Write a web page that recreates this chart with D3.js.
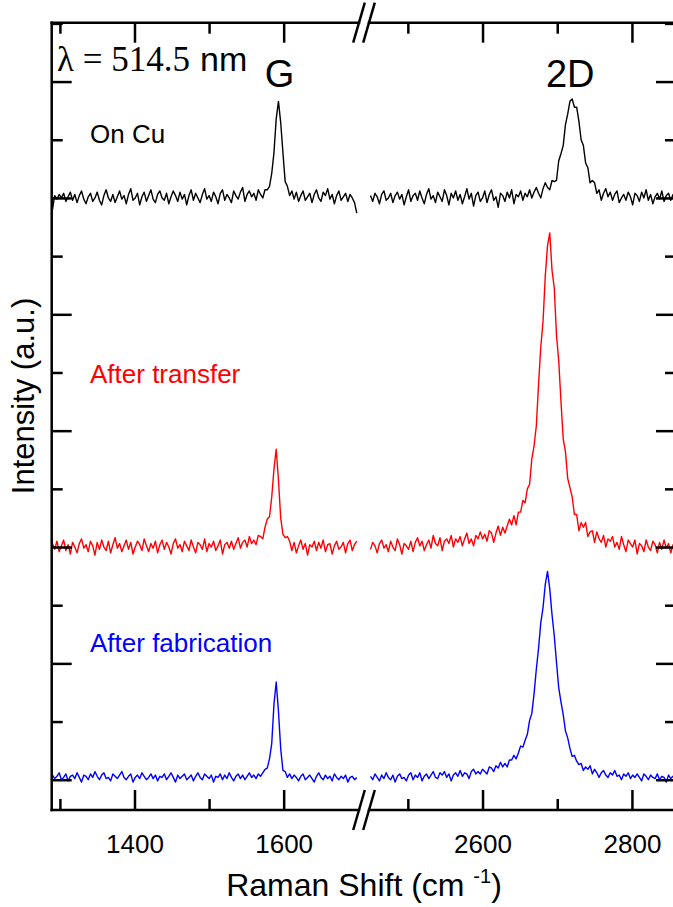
<!DOCTYPE html>
<html>
<head>
<meta charset="utf-8">
<script src="https://cdn.jsdelivr.net/npm/d3@7"></script>
<style>
  body { margin: 0; background: #fff; }
  svg { display: block; }
  text { font-family: "Liberation Sans", Arial, sans-serif; }
</style>
</head>
<body>
<svg id="chart" width="673" height="907"></svg>
<script>
// Wavenumber grids (cm^-1): both windows are sampled every 3 cm^-1
const leftStart = 1290;   // G-band window
const rightStart = 2450;  // 2D-band window
const step = 3;

// Raman intensities (a.u.), one array per spectrum and window
const blackLeft = [
  -10, 2, -1, 3, 0, 4, -3, 1, 5, -2,
  3, -4, 2, 6, -1, -5, 1, 4, -3, 0,
  5, -2, -6, 2, 7, 0, -3, 3, -4, 1,
  6, -1, 2, -5, 3, 8, -2, 0, 4, -6,
  1, 5, -3, 2, 7, -1, -4, 3, 6, 0,
  -2, 4, -5, 1, 6, 2, -3, 5, -1, 3,
  -6, 2, 7, -2, 4, 0, -4, 3, 8, -1,
  2, -3, 5, 1, -5, 4, 7, -2, 3, 0,
  -4, 6, 2, -1, 5, 9, -3, 3, 6, 1,
  4, -2, 7, 3, 0, 7, 7, 10, 21, 39,
  68, 83, 65, 39, 14, 10, 2, 6, -1, 5,
  -3, 2, 6, -2, 1, 4, -4, 3, 7, 0,
  -3, 5, 2, 8, -1, 3, -5, 2, 6, -2,
  1, 4, -3, 3, 0, -4, -13
];
const blackRight = [
  2, -3, 4, 1, -5, 3, 6, -2, 0, 4,
  -4, 2, 5, -1, 3, -6, 1, 7, -3, 2,
  4, -2, 6, 0, -5, 3, 8, -1, 2, -4,
  5, 1, -3, 7, 2, -6, 4, 0, 6, -2,
  3, -5, 1, 8, -1, 4, -7, 2, 5, -3,
  0, 6, -4, 3, 7, -2, 1, -8, 4, 2,
  -3, 5, 0, 7, -5, 3, 1, 6, -2, 4,
  1, 7, 0, 5, 9, 4, 0, 8, 13, 9,
  7, 15, 14, 15, 32, 38, 45, 63, 72, 83,
  85, 78, 78, 66, 50, 45, 30, 26, 13, 15,
  13, 4, 7, -2, 4, 8, 1, 5, -2, 3,
  6, -4, 0, 3, -2, 5, 1, -6, 4, 2,
  -3, 5, 0, 7, -2, 3, -5, 1, 4, -1,
  6, -3, 2, 4, -2, 3, 0
];
const redLeft = [
  3, -2, 5, -4, 1, 6, -3, 2, -6, 4,
  0, -5, 3, 7, -1, 2, -4, 5, 1, -7,
  4, -2, 6, 0, -3, 5, -5, 2, 8, -1,
  3, -4, 1, 6, -2, 4, -6, 0, 5, 2,
  -3, 7, 1, -4, 3, -1, 5, -5, 2, 6,
  -2, 4, 0, -6, 3, 7, -1, 2, -4, 5,
  1, -3, 6, 0, -5, 4, 2, -2, 7, -4,
  3, 0, 5, -3, 1, 6, -6, 2, 4, -1,
  5, -2, 3, 8, -1, 4, 6, 0, 9, 3,
  6, 2, 10, 9, 7, 17, 24, 26, 43, 67,
  84, 58, 25, 11, 8, 9, 5, -3, 4, -5,
  1, 6, -2, 3, -7, 2, 0, 5, -3, 4,
  -1, 6, -4, 2, 3, -6, 1, 5, -2, 0,
  4, -5, 3, 6, -3, 2, 5
];
const redRight = [
  -2, 4, 1, -5, 3, 6, -1, 2, -4, 5,
  0, -3, 7, 2, -6, 3, 1, -2, 5, -4,
  4, 8, 1, 5, -3, 2, 6, -1, 10, 3,
  1, 8, -3, 5, 7, 3, 10, 0, 7, 4,
  9, 1, 7, 12, 3, 7, 1, 10, 7, 13,
  7, 11, 5, 14, 12, 4, 12, 18, 10, 17,
  12, 18, 24, 19, 27, 19, 30, 30, 40, 38,
  50, 54, 76, 87, 104, 140, 172, 194, 233, 259,
  270, 238, 223, 182, 160, 125, 93, 82, 59, 51,
  43, 28, 28, 14, 21, 17, 21, 9, 13, 14,
  4, 13, 7, 4, 10, 0, 7, 5, 9, 0,
  4, -2, 9, 2, -4, 6, 3, 0, 6, -6,
  3, 1, -4, 6, 0, -3, 5, 2, -5, 4,
  -2, 6, -1, 3, -5, 2, 0
];
const blueLeft = [
  4, 1, 3, 6, 0, 2, 5, -1, 3, 4,
  1, 6, 2, -2, 4, 3, 0, 5, 2, 7,
  3, 0, 4, 6, 1, 2, -1, 5, 3, 1,
  4, 7, 2, 0, 3, 5, -2, 2, 4, 1,
  6, 3, 0, 2, 5, 1, 4, -1, 3, 2,
  5, 0, 3, 6, 2, -2, 4, 1, 3, 5,
  0, 2, 4, -1, 3, 6, 2, 0, 5, 3,
  1, 4, -2, 3, 2, 5, 0, 4, 1, 6,
  2, -1, 3, 5, 1, 4, 0, 3, 6, 2,
  4, 1, 5, 3, 6, 9, 10, 18, 31, 65,
  84, 59, 27, 8, 7, 2, 5, 1, 4, 2,
  -1, 3, 5, 0, 2, 4, 1, -2, 3, 6,
  2, 0, 4, 1, 3, -1, 5, 2, 0, 3,
  1, 4, -2, 2, 3, 0, 2
];
const blueRight = [
  3, 0, 5, 2, -1, 4, 1, 6, 2, 0,
  4, -2, 3, 5, 1, 2, -1, 4, 6, 0,
  4, 2, 6, -1, 3, 5, 1, 4, 7, 2,
  1, 6, 4, 7, 2, 5, -1, 4, 6, 3,
  8, 3, 6, 5, 1, 7, 9, 5, 7, 5,
  9, 7, 5, 11, 10, 7, 12, 10, 15, 11,
  14, 11, 17, 17, 21, 18, 23, 29, 28, 34,
  39, 51, 57, 74, 95, 113, 135, 148, 168, 179,
  164, 142, 124, 101, 79, 67, 56, 42, 36, 27,
  20, 21, 16, 13, 14, 8, 11, 9, 12, 5,
  9, 6, 2, 6, 8, 4, 2, 6, 4, 8,
  3, 4, 0, 5, 3, 6, 1, 4, 2, 5,
  2, -1, 5, 3, 0, 4, 2, 1, 5, 0,
  3, 2, -2, 4, 1, 3, 2
];

// Spectrum names, colours and vertical stacking offsets
const seriesNames   = ["On Cu", "After transfer", "After fabrication"];
const seriesColors  = ["#000000", "#ff0000", "#0000ff"];
const seriesOffsets = [500, 200, 0];

// Axis ticks
const xMajorLeft  = [1400, 1600];
const xMinorLeft  = [1300, 1500];
const xMajorRight = [2600, 2800];
const xMinorRight = [2500, 2700];
const yMajor = [0, 100, 200, 300, 400, 500, 600];
const yMinor = [50, 150, 250, 350, 450, 550, 650];

// Band labels
const bandLabels = ["G", "2D"];
const bandPositions = [1593, 2720];

const svg = d3.select("#chart");

// Plot frame
const frameL = 51.7, frameR = 676, frameT = 22.7, frameB = 810;
const breakL = 359, breakR = 369;

// Broken x axis: two linear pieces with the same cm^-1 per pixel
const xl = d3.scaleLinear().domain([1289, 1701]).range([frameL, breakL]);
const xr = d3.scaleLinear().domain([2448, 2859]).range([breakR, frameR]);
const y  = d3.scaleLinear().domain([-26, 650.6]).range([frameB, frameT]);

const AXIS_W = 2.5;

function styleAxis(g) {
  g.select(".domain").remove();
  g.selectAll(".tick line").attr("stroke", "#000").attr("stroke-width", AXIS_W);
  g.selectAll(".tick text")
    .attr("fill", "#000")
    .style("font-family", '"Liberation Sans", Arial, sans-serif')
    .style("font-size", "26px");
}

// Spectra
const lineGen = d3.line().x(d => d[0]).y(d => d[1]);
const spectra = [
  [blackLeft, blackRight],
  [redLeft, redRight],
  [blueLeft, blueRight]
];
const gData = svg.append("g");
spectra.forEach(([lv, rv], i) => {
  const off = seriesOffsets[i];
  const lp = lv.map((v, k) => [xl(leftStart + step * k), y(v + off)]);
  const rp = rv.map((v, k) => [xr(rightStart + step * k), y(v + off)]);
  [lp, rp].forEach(pts => {
    gData.append("path")
      .attr("d", lineGen(pts))
      .attr("fill", "none")
      .attr("stroke", seriesColors[i])
      .attr("stroke-width", 1.4)
      .attr("stroke-linejoin", "round");
  });
});

// Bottom and top axes (ticks point into the plot)
const fmt = d3.format("d");
[[xl, xMajorLeft, xMinorLeft], [xr, xMajorRight, xMinorRight]].forEach(([sc, maj, min]) => {
  svg.append("g").attr("transform", `translate(0,${frameB})`)
    .call(d3.axisBottom(sc).tickValues(maj).tickFormat(fmt)
      .tickSizeInner(-20).tickSizeOuter(0).tickPadding(25))
    .call(styleAxis);
  svg.append("g").attr("transform", `translate(0,${frameB})`)
    .call(d3.axisBottom(sc).tickValues(min).tickSizeInner(-11).tickSizeOuter(0).tickFormat(""))
    .call(styleAxis);
  svg.append("g").attr("transform", `translate(0,${frameT})`)
    .call(d3.axisBottom(sc).tickValues(maj).tickSizeInner(20).tickSizeOuter(0).tickFormat(""))
    .call(styleAxis);
  svg.append("g").attr("transform", `translate(0,${frameT})`)
    .call(d3.axisBottom(sc).tickValues(min).tickSizeInner(11).tickSizeOuter(0).tickFormat(""))
    .call(styleAxis);
});

// Left and right axes
svg.append("g").attr("transform", `translate(${frameL},0)`)
  .call(d3.axisRight(y).tickValues(yMajor).tickSize(20).tickFormat("")).call(styleAxis);
svg.append("g").attr("transform", `translate(${frameL},0)`)
  .call(d3.axisRight(y).tickValues(yMinor).tickSize(11).tickFormat("")).call(styleAxis);
svg.append("g").attr("transform", `translate(${frameR},0)`)
  .call(d3.axisLeft(y).tickValues(yMajor).tickSize(20).tickFormat("")).call(styleAxis);
svg.append("g").attr("transform", `translate(${frameR},0)`)
  .call(d3.axisLeft(y).tickValues(yMinor).tickSize(11).tickFormat("")).call(styleAxis);

// Frame lines, with a gap at the axis break
const frame = svg.append("g").attr("stroke", "#000").attr("stroke-width", AXIS_W)
  .attr("stroke-linecap", "square");
[frameT, frameB].forEach(yy => {
  frame.append("line").attr("x1", frameL).attr("x2", breakL).attr("y1", yy).attr("y2", yy);
  frame.append("line").attr("x1", breakR).attr("x2", frameR).attr("y1", yy).attr("y2", yy);
});
frame.append("line").attr("x1", frameL).attr("x2", frameL).attr("y1", frameT).attr("y2", frameB);
frame.append("line").attr("x1", frameR).attr("x2", frameR).attr("y1", frameT).attr("y2", frameB);

// Break marks "//"
const brk = svg.append("g").attr("stroke", "#000").attr("stroke-width", AXIS_W);
[frameT, frameB].forEach(yy => {
  [breakL, breakR].forEach(cx => {
    brk.append("line")
      .attr("x1", cx + 5.8).attr("y1", yy - 20)
      .attr("x2", cx - 5.8).attr("y2", yy + 20);
  });
});

// Annotations
svg.append("text").attr("x", 57).attr("y", 71)
  .style("font-family", '"Liberation Serif", "Times New Roman", serif')
  .style("font-size", "35px").text("λ = 514.5");
svg.append("text").attr("x", 200).attr("y", 71)
  .style("font-size", "34px").text("nm");

svg.append("text").attr("x", xl(bandPositions[0]) + 1).attr("y", 87)
  .attr("text-anchor", "middle").style("font-size", "38px").text(bandLabels[0]);
svg.append("text").attr("x", xr(bandPositions[1]) - 2).attr("y", 87)
  .attr("text-anchor", "middle").style("font-size", "38px").text(bandLabels[1]);

const labelY = [143, 383, 652];
seriesNames.forEach((n, i) => {
  svg.append("text").attr("x", 90).attr("y", labelY[i])
    .attr("fill", seriesColors[i])
    .style("font-size", "26px").text(n);
});

// Axis titles
svg.append("text")
  .attr("transform", "translate(34,396) rotate(-90)")
  .attr("text-anchor", "middle")
  .style("font-size", "31px").text("Intensity (a.u.)");

const xt = svg.append("text").attr("x", 364).attr("y", 896)
  .attr("text-anchor", "middle").style("font-size", "32px");
xt.append("tspan").text("Raman Shift (cm ");
xt.append("tspan").attr("dy", -13).style("font-size", "20px").text("-1");
xt.append("tspan").attr("dy", 13).text(")");
</script>
</body>
</html>
